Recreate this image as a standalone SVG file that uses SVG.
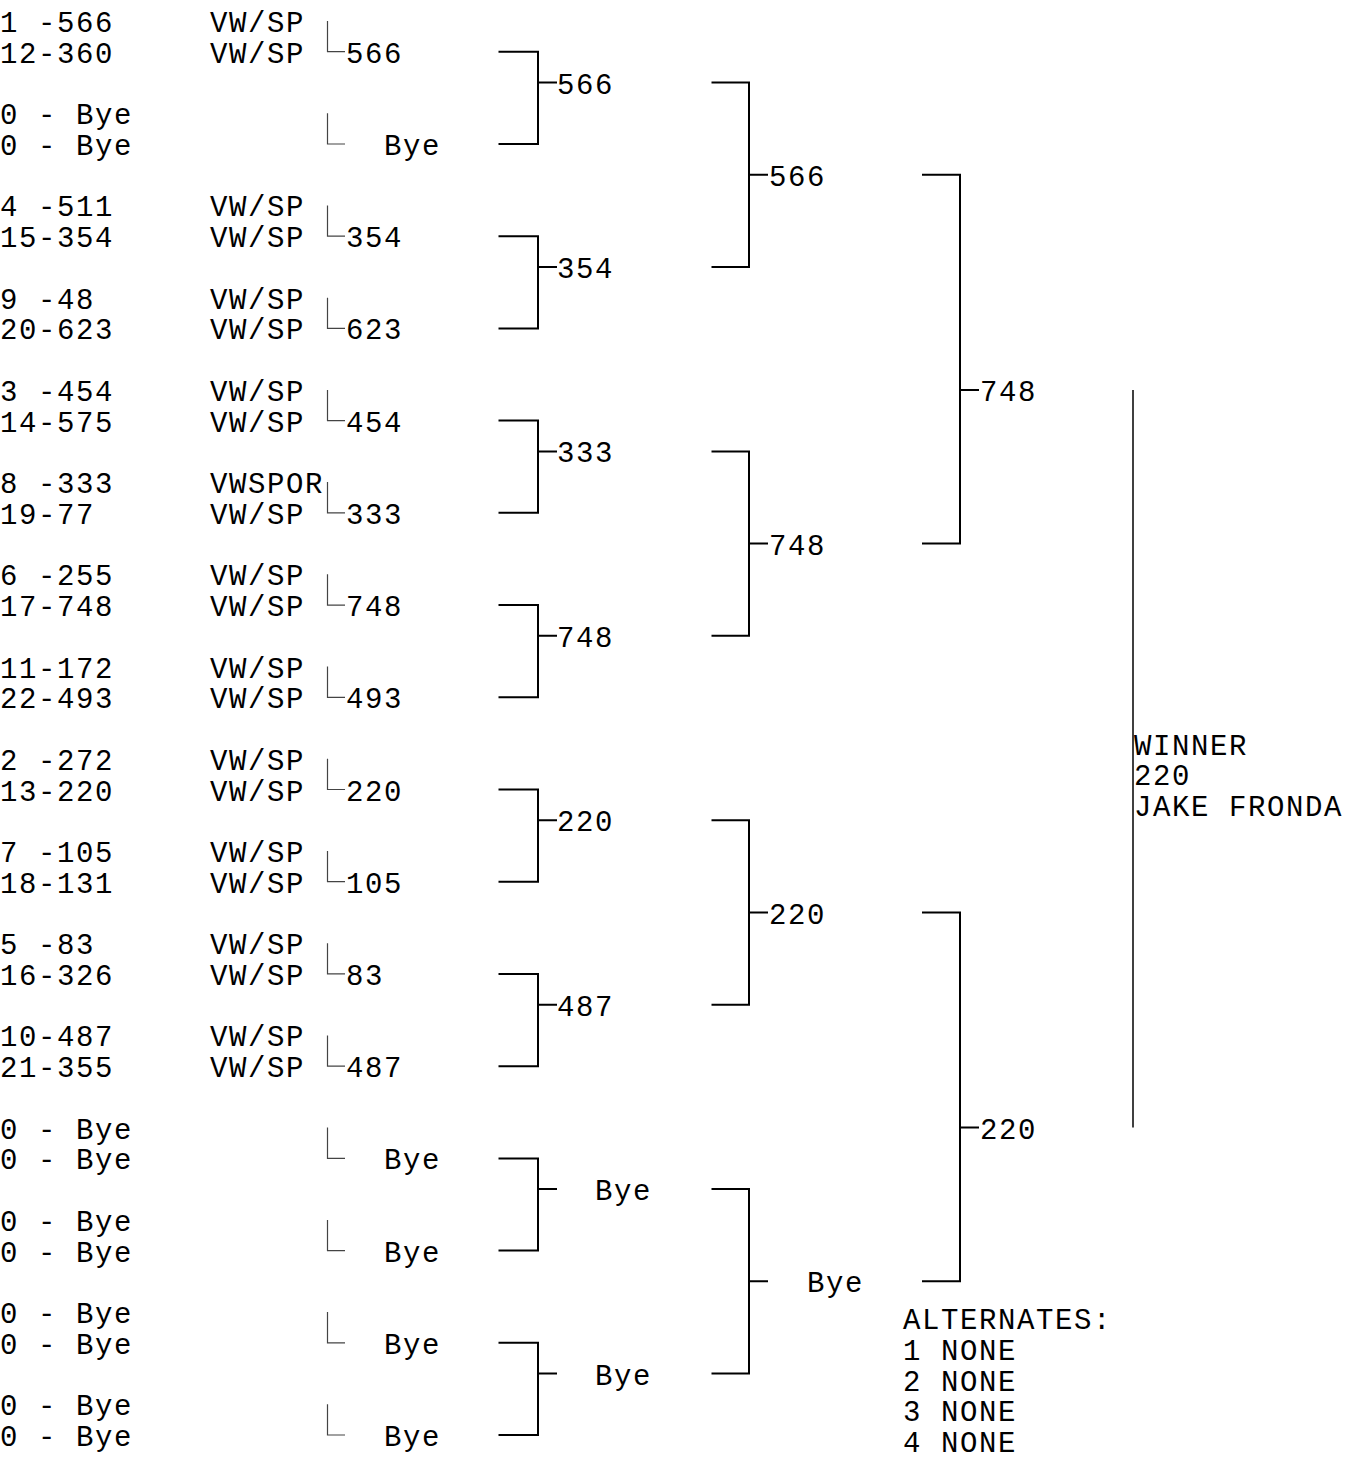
<svg xmlns="http://www.w3.org/2000/svg" width="1346" height="1461" viewBox="0 0 1346 1461">
<style>
text{font-family:"Liberation Mono","DejaVu Sans Mono",monospace;font-size:29px;letter-spacing:1.6px;fill:#000;white-space:pre}
.c1{fill:none;stroke:#444;stroke-width:1.2}
.br{fill:none;stroke:#000;stroke-width:2}
.fin{fill:none;stroke:#000;stroke-width:1.5}
</style>
<rect width="1346" height="1461" fill="#fff"/>
<g id="connectors">
<path class="c1" d="M327.5 21V51.7H345M327.5 113.2V144H345M327.5 205.4V236.2H345M327.5 297.7V328.4H345M327.5 389.9V420.6H345M327.5 482.1V512.8H345M327.5 574.3V605.1H345M327.5 666.5V697.3H345M327.5 758.8V789.5H345M327.5 851V881.7H345M327.5 943.2V973.9H345M327.5 1035.4V1066.2H345M327.5 1127.6V1158.4H345M327.5 1219.9V1250.6H345M327.5 1312.1V1342.8H345M327.5 1404.3V1435H345"/>
<path class="br" d="M498.5 51.7H538V144H498.5M538 82.5H557M498.5 236.2H538V328.4H498.5M538 266.9H557M498.5 420.6H538V512.8H498.5M538 451.4H557M498.5 605.1H538V697.3H498.5M538 635.8H557M498.5 789.5H538V881.7H498.5M538 820.2H557M498.5 973.9H538V1066.2H498.5M538 1004.7H557M498.5 1158.4H538V1250.6H498.5M538 1189.1H557M498.5 1342.8H538V1435H498.5M538 1373.6H557"/>
<path class="br" d="M711.5 82.5H749V266.9H711.5M749 174.7H768M711.5 451.4H749V635.8H711.5M749 543.6H768M711.5 820.2H749V1004.7H711.5M749 912.5H768M711.5 1189.1H749V1373.6H711.5M749 1281.3H768"/>
<path class="br" d="M922 174.7H960V543.6H922M960 389.9H979M922 912.5H960V1281.3H922M960 1127.6H979"/>
<path class="fin" d="M1133 389.9V1127.6"/>
</g>
<g id="entries">
<g id="e1"><text x="0" y="32">1 -566</text><text x="210" y="32">VW/SP</text></g>
<g id="e2"><text x="0" y="62.7">12-360</text><text x="210" y="62.7">VW/SP</text></g>
<g id="e3"><text x="0" y="124.2">0 - Bye</text></g>
<g id="e4"><text x="0" y="155">0 - Bye</text></g>
<g id="e5"><text x="0" y="216.4">4 -511</text><text x="210" y="216.4">VW/SP</text></g>
<g id="e6"><text x="0" y="247.2">15-354</text><text x="210" y="247.2">VW/SP</text></g>
<g id="e7"><text x="0" y="308.7">9 -48</text><text x="210" y="308.7">VW/SP</text></g>
<g id="e8"><text x="0" y="339.4">20-623</text><text x="210" y="339.4">VW/SP</text></g>
<g id="e9"><text x="0" y="400.9">3 -454</text><text x="210" y="400.9">VW/SP</text></g>
<g id="e10"><text x="0" y="431.6">14-575</text><text x="210" y="431.6">VW/SP</text></g>
<g id="e11"><text x="0" y="493.1">8 -333</text><text x="210" y="493.1">VWSPOR</text></g>
<g id="e12"><text x="0" y="523.8">19-77</text><text x="210" y="523.8">VW/SP</text></g>
<g id="e13"><text x="0" y="585.3">6 -255</text><text x="210" y="585.3">VW/SP</text></g>
<g id="e14"><text x="0" y="616.1">17-748</text><text x="210" y="616.1">VW/SP</text></g>
<g id="e15"><text x="0" y="677.5">11-172</text><text x="210" y="677.5">VW/SP</text></g>
<g id="e16"><text x="0" y="708.3">22-493</text><text x="210" y="708.3">VW/SP</text></g>
<g id="e17"><text x="0" y="769.8">2 -272</text><text x="210" y="769.8">VW/SP</text></g>
<g id="e18"><text x="0" y="800.5">13-220</text><text x="210" y="800.5">VW/SP</text></g>
<g id="e19"><text x="0" y="862">7 -105</text><text x="210" y="862">VW/SP</text></g>
<g id="e20"><text x="0" y="892.7">18-131</text><text x="210" y="892.7">VW/SP</text></g>
<g id="e21"><text x="0" y="954.2">5 -83</text><text x="210" y="954.2">VW/SP</text></g>
<g id="e22"><text x="0" y="984.9">16-326</text><text x="210" y="984.9">VW/SP</text></g>
<g id="e23"><text x="0" y="1046.4">10-487</text><text x="210" y="1046.4">VW/SP</text></g>
<g id="e24"><text x="0" y="1077.2">21-355</text><text x="210" y="1077.2">VW/SP</text></g>
<g id="e25"><text x="0" y="1138.6">0 - Bye</text></g>
<g id="e26"><text x="0" y="1169.4">0 - Bye</text></g>
<g id="e27"><text x="0" y="1230.9">0 - Bye</text></g>
<g id="e28"><text x="0" y="1261.6">0 - Bye</text></g>
<g id="e29"><text x="0" y="1323.1">0 - Bye</text></g>
<g id="e30"><text x="0" y="1353.8">0 - Bye</text></g>
<g id="e31"><text x="0" y="1415.3">0 - Bye</text></g>
<g id="e32"><text x="0" y="1446">0 - Bye</text></g>
</g>
<g id="round1">
<g id="r1-1"><text x="346" y="62.7">566</text></g>
<g id="r1-2"><text x="384" y="155">Bye</text></g>
<g id="r1-3"><text x="346" y="247.2">354</text></g>
<g id="r1-4"><text x="346" y="339.4">623</text></g>
<g id="r1-5"><text x="346" y="431.6">454</text></g>
<g id="r1-6"><text x="346" y="523.8">333</text></g>
<g id="r1-7"><text x="346" y="616.1">748</text></g>
<g id="r1-8"><text x="346" y="708.3">493</text></g>
<g id="r1-9"><text x="346" y="800.5">220</text></g>
<g id="r1-10"><text x="346" y="892.7">105</text></g>
<g id="r1-11"><text x="346" y="984.9">83</text></g>
<g id="r1-12"><text x="346" y="1077.2">487</text></g>
<g id="r1-13"><text x="384" y="1169.4">Bye</text></g>
<g id="r1-14"><text x="384" y="1261.6">Bye</text></g>
<g id="r1-15"><text x="384" y="1353.8">Bye</text></g>
<g id="r1-16"><text x="384" y="1446">Bye</text></g>
</g>
<g id="round2">
<g id="r2-1"><text x="557" y="93.5">566</text></g>
<g id="r2-2"><text x="557" y="277.9">354</text></g>
<g id="r2-3"><text x="557" y="462.4">333</text></g>
<g id="r2-4"><text x="557" y="646.8">748</text></g>
<g id="r2-5"><text x="557" y="831.2">220</text></g>
<g id="r2-6"><text x="557" y="1015.7">487</text></g>
<g id="r2-7"><text x="595" y="1200.1">Bye</text></g>
<g id="r2-8"><text x="595" y="1384.6">Bye</text></g>
</g>
<g id="round3">
<g id="r3-1"><text x="769" y="185.7">566</text></g>
<g id="r3-2"><text x="769" y="554.6">748</text></g>
<g id="r3-3"><text x="769" y="923.5">220</text></g>
<g id="r3-4"><text x="807" y="1292.3">Bye</text></g>
</g>
<g id="round4">
<g id="r4-1"><text x="980" y="400.9">748</text></g>
<g id="r4-2"><text x="980" y="1138.6">220</text></g>
</g>
<g id="winner">
<text x="1134" y="754.5">WINNER</text>
<text x="1134" y="785">220</text>
<text x="1134" y="815.5">JAKE FRONDA</text>
</g>
<g id="alternates">
<text x="903" y="1329.2">ALTERNATES:</text>
<text x="903" y="1359.9">1 NONE</text>
<text x="903" y="1390.6">2 NONE</text>
<text x="903" y="1421.3">3 NONE</text>
<text x="903" y="1452">4 NONE</text>
</g>
</svg>
